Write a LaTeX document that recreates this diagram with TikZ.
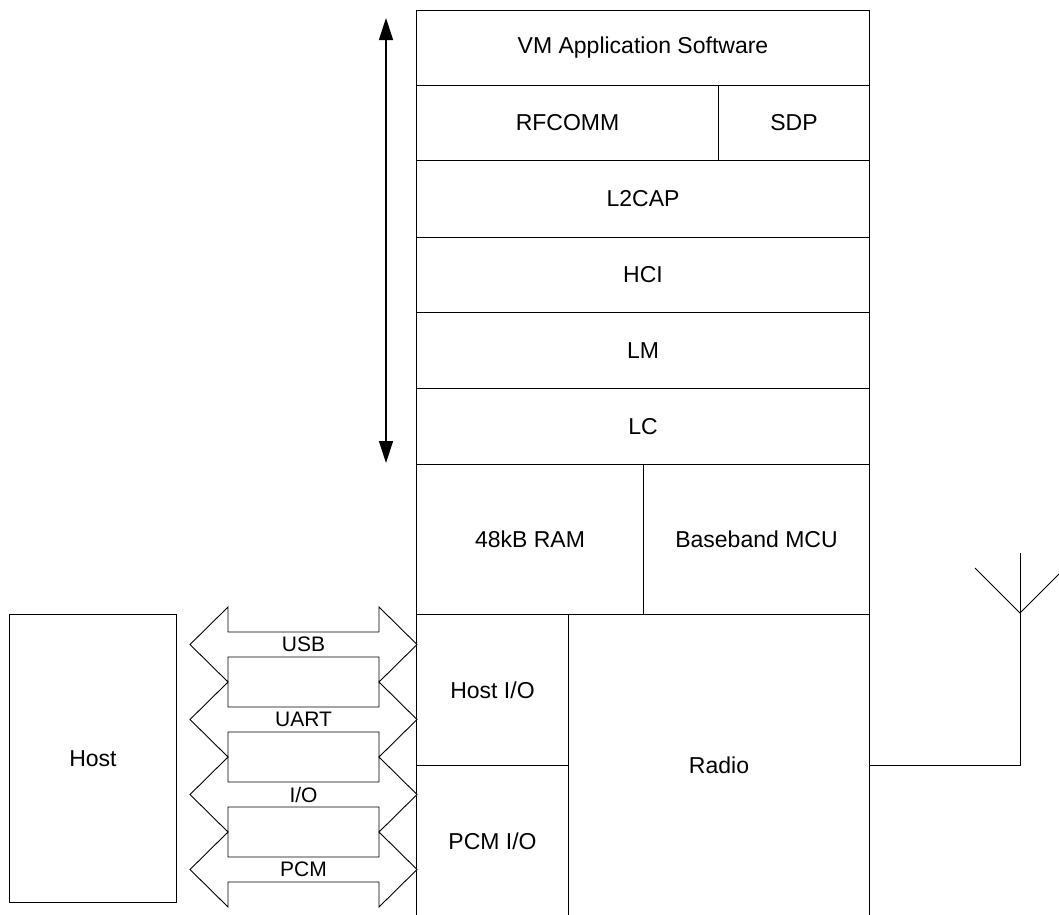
\documentclass[tikz,border=0pt]{standalone}
\usepackage{fontspec}
\setmainfont{Liberation Sans}
\usetikzlibrary{arrows.meta}
\begin{document}
\begin{tikzpicture}[x=1pt,y=-1pt,
  box/.style={draw=black, line width=1pt, anchor=north west, inner sep=0pt, font=\fontsize{23}{27}\selectfont},
  blk/.style={draw=black, line width=0.9pt, fill=white, line join=miter},
  lbl/.style={inner sep=0pt, font=\fontsize{21}{25}\selectfont},
  dbl/.style={line width=1.2pt, {Triangle[width=14pt,length=22pt]}-{Triangle[width=14pt,length=22pt]}},
  wire/.style={draw=black, line width=1pt}]
\useasboundingbox (0,0) rectangle (1059,914);
\clip (0,0) rectangle (1059,914);
% protocol stack
\node[box, minimum width=453pt, minimum height=75pt] (vm) at (416,10) {VM Application Software};
\node[box, minimum width=302pt, minimum height=75pt] (rfcomm) at (416,85) {RFCOMM};
\node[box, minimum width=151pt, minimum height=75pt] (sdp) at (718,85) {SDP};
\node[box, minimum width=453pt, minimum height=77pt] (l2cap) at (416,160) {L2CAP};
\node[box, minimum width=453pt, minimum height=75pt] (hci) at (416,237) {HCI};
\node[box, minimum width=453pt, minimum height=76pt] (lm) at (416,312) {LM};
\node[box, minimum width=453pt, minimum height=76pt] (lc) at (416,388) {LC};
\node[box, minimum width=227pt, minimum height=150pt] (ram) at (416,464) {48kB RAM};
\node[box, minimum width=226pt, minimum height=150pt] (mcu) at (643,464) {Baseband MCU};
\node[box, minimum width=152pt, minimum height=151pt] (hostio) at (416,614) {Host I/O};
\node[box, minimum width=152pt, minimum height=151pt] (pcmio) at (416,765) {PCM I/O};
\node[box, minimum width=301pt, minimum height=302pt] (radio) at (568,614) {Radio};
% host
\node[box, minimum width=167pt, minimum height=288pt] (host) at (9,614) {Host};
% vertical double arrow
\coordinate (atop) at (386,18);
\coordinate (abot) at (386,463);
\draw[dbl] (atop) -- (abot);
% block arrows
\foreach \cy/\name/\txt in {644.5/usb/USB, 719.5/uart/UART, 794.5/io/{I/O}, 869.5/pcm/PCM}{
  \draw[blk] (190,\cy) -- (228,\cy-37.5) -- (228,\cy-12.5) -- (379,\cy-12.5) -- (379,\cy-37.5)
    -- (417,\cy) -- (379,\cy+37.5) -- (379,\cy+12.5) -- (228,\cy+12.5) -- (228,\cy+37.5) -- cycle;
  \node[lbl] (\name) at (303.5,\cy) {\txt};
}
% antenna
\coordinate (anttop) at (1020,553);
\coordinate (antfork) at (1020,613);
\coordinate (armL) at (975,568);
\coordinate (armR) at (1065,568);
\draw[wire] (radio.east) -- (radio.east -| anttop) -- (anttop);
\draw[wire] (armL) -- (antfork) -- (armR);
\end{tikzpicture}
\end{document}
